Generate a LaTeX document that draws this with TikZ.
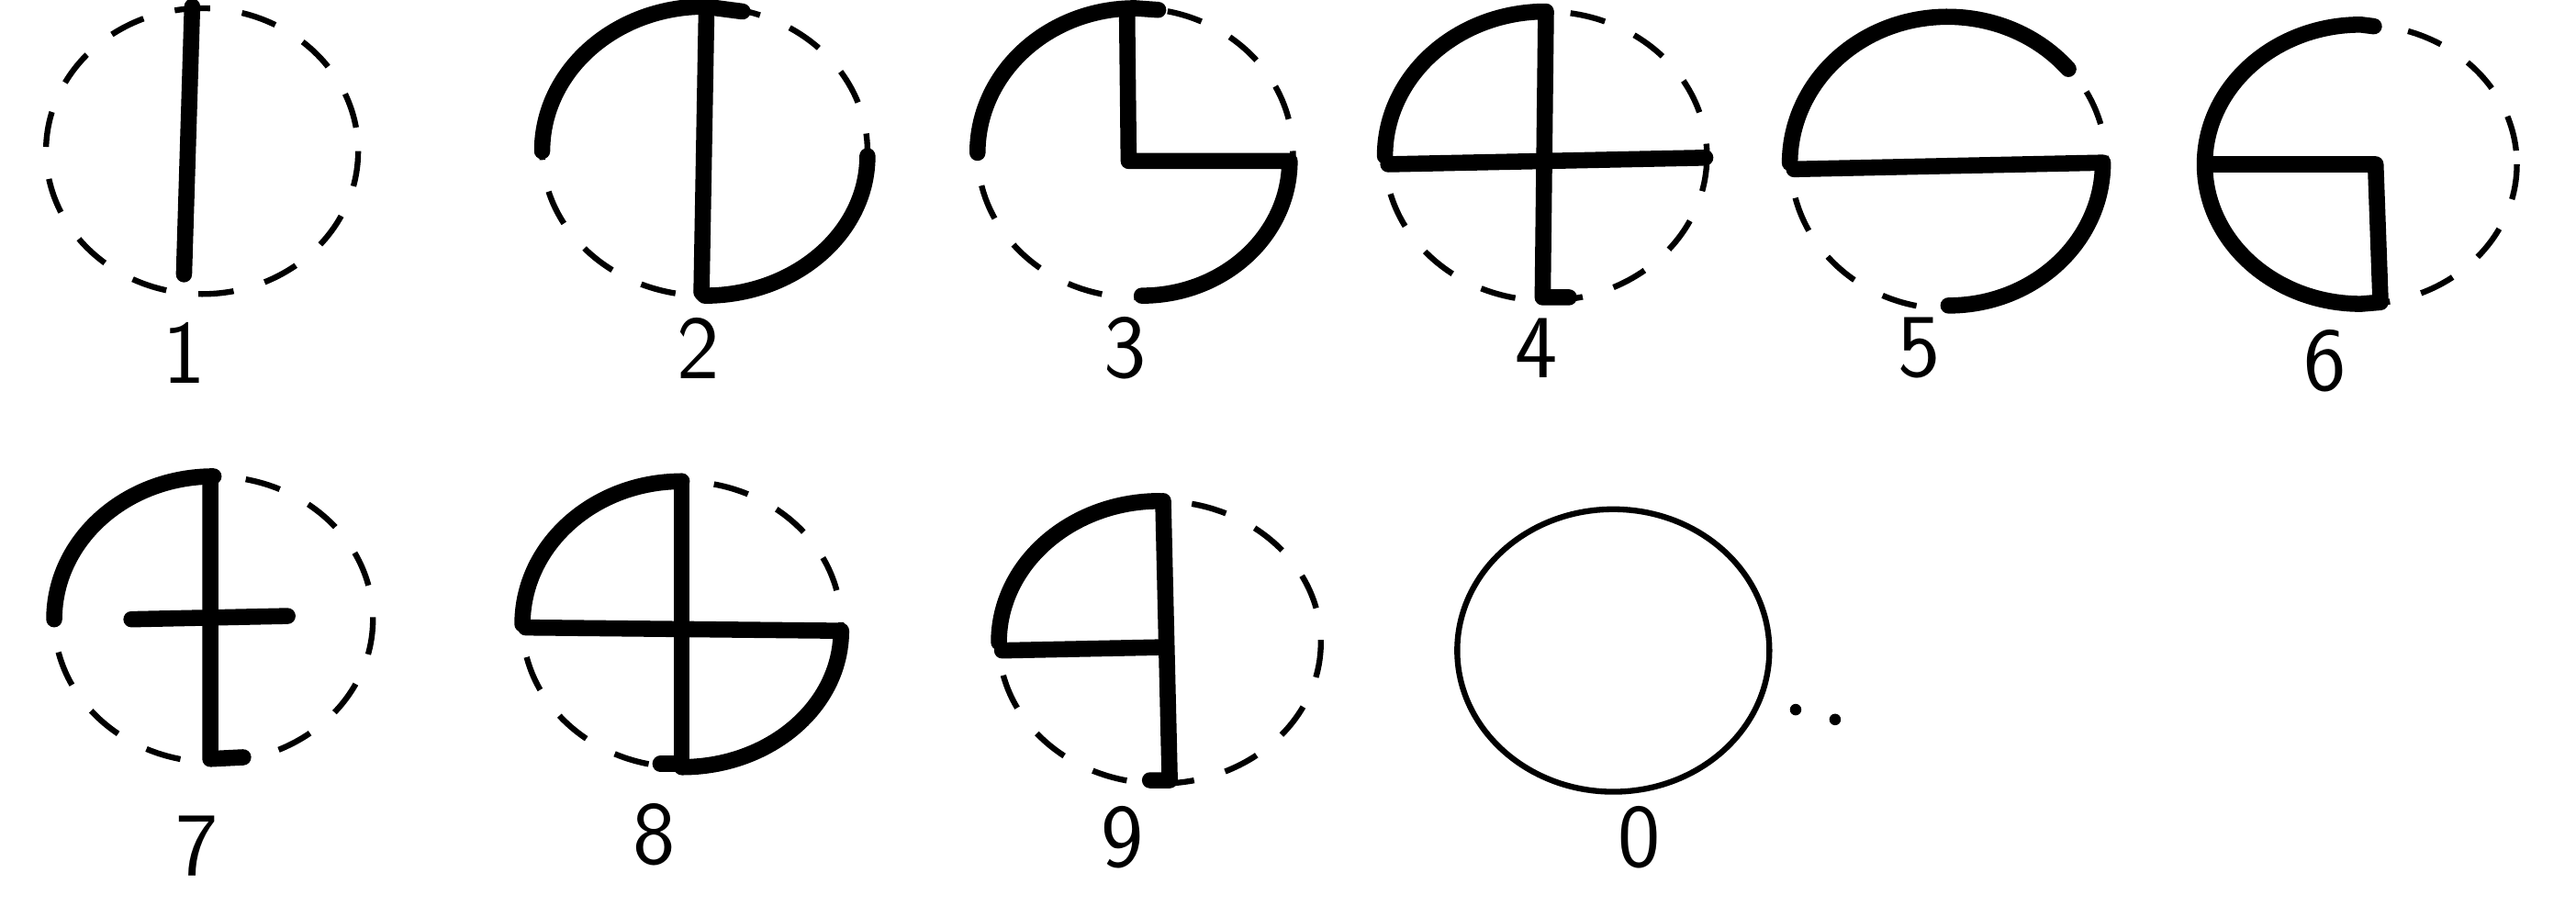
\documentclass[tikz,border=0pt]{standalone}
\begin{document}
\begin{tikzpicture}[x=0.017895cm, y=-0.017895cm,
    every node/.style={font=\sffamily\fontsize{28}{30}\selectfont}]
  \tikzset{
    guide/.style={line width=1.8pt, dash pattern=on 11pt off 10pt},
    stroke/.style={line width=5pt, line cap=round, line join=round},
    zero/.style={line width=1.8pt}
  }
  \useasboundingbox (0,0) rectangle (1568,558);
  % dashed guide ovals
  \foreach \cx/\cy/\rx/\ry in {123/92/95/87, 429/92/99/88, 691/93/96/88,
      941/95/98/88, 1186/99/96/89, 1437/100/95/85,
      130/377/97/87, 415/380/97/87, 706/391/98/86}
    \draw[guide] (\cx,\cy) ellipse [x radius=\rx, y radius=\ry];
  % 1
  \draw[stroke] (117,4) -- (112,167);
  % 2
  \draw[stroke] (452,7) -- (429,4) arc[start angle=270, end angle=180, x radius=99, y radius=88];
  \draw[stroke] (430,7) -- (427,177);
  \draw[stroke] (528,95) arc[start angle=0, end angle=90, x radius=99, y radius=85] -- (427,178);
  % 3
  \draw[stroke] (705,6) -- (691,5) arc[start angle=270, end angle=180, x radius=96, y radius=88];
  \draw[stroke] (686,6) -- (687,98) -- (785,98)
    arc[start angle=0, end angle=90, x radius=90, y radius=82];
  % 4
  \draw[stroke] (941,7) arc[start angle=270, end angle=180, x radius=98, y radius=88];
  \draw[stroke] (941,8) -- (939,181) -- (955,181);
  \draw[stroke] (845,100) -- (1038,96);
  % 5
  \draw[stroke] (1259,42) arc[start angle=320, end angle=180, x radius=96, y radius=89];
  \draw[stroke] (1092,103) -- (1280,99)
    arc[start angle=0, end angle=90, x radius=94, y radius=87];
  % 6
  \draw[stroke] (1445,16) -- (1437,15) arc[start angle=270, end angle=90, x radius=95, y radius=85]
    -- (1449,184) -- (1446,100) -- (1347,100);
  % 7
  \draw[stroke] (130,290) arc[start angle=270, end angle=180, x radius=97, y radius=87];
  \draw[stroke] (128,292) -- (128,462) -- (148,461);
  \draw[stroke] (80,377) -- (175,375);
  % 8
  \draw[stroke] (415,293) arc[start angle=270, end angle=180, x radius=97, y radius=87];
  \draw[stroke] (415,293) -- (415,465) -- (402,465);
  \draw[stroke] (320,382) -- (512,384)
    arc[start angle=0, end angle=90, x radius=97, y radius=83];
  % 9
  \draw[stroke] (706,305) arc[start angle=270, end angle=180, x radius=98, y radius=86];
  \draw[stroke] (610,396) -- (708,394);
  \draw[stroke] (708,305) -- (712,475) -- (700,475);
  % 0
  \draw[zero] (982,396) ellipse [x radius=95, y radius=86];
  \fill (1093,432) circle [radius=3.5];
  \fill (1117,438) circle [radius=3.5];
  % labels
  \node (l1) at (112,215) {1};
  \node (l2) at (425,212) {2};
  \node (l3) at (685,212) {3};
  \node (l4) at (935,212) {4};
  \node (l5) at (1168,212) {5};
  \node (l6) at (1415,220) {6};
  \node (l7) at (120,515) {7};
  \node (l8) at (398,508) {8};
  \node (l9) at (683,510) {9};
  \node (l0) at (998,510) {0};
\end{tikzpicture}
\end{document}
